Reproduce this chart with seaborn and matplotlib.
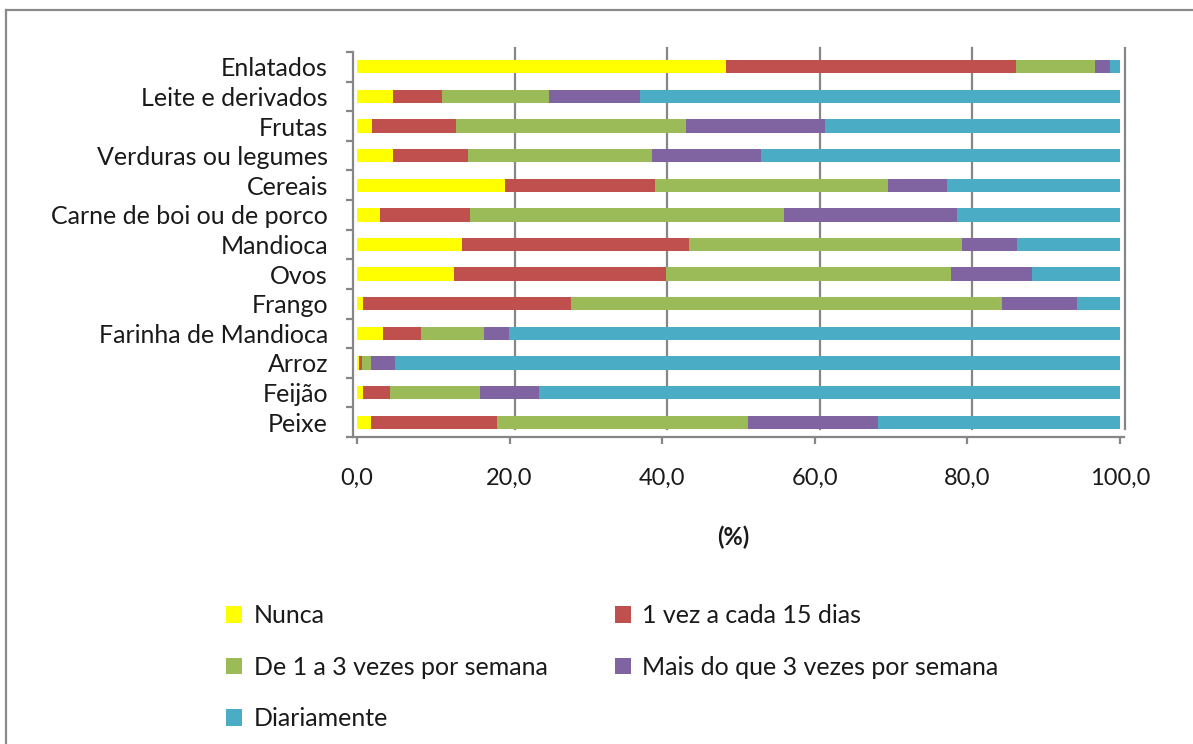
import matplotlib
matplotlib.use("Agg")
import matplotlib.pyplot as plt
import matplotlib.transforms as mtransforms
from matplotlib.lines import Line2D
from matplotlib.patches import Patch
import pandas as pd
import seaborn as sns

# DADOS

alimentos = [
    "Enlatados", "Leite e derivados", "Frutas", "Verduras ou legumes",
    "Cereais", "Carne de boi ou de porco", "Mandioca", "Ovos", "Frango",
    "Farinha de Mandioca", "Arroz", "Feijão", "Peixe",
]

nunca = [48.4, 4.7, 2.0, 4.7, 19.4, 3.0, 13.7, 12.7, 0.8, 3.4, 0.3, 0.8, 1.9]
quinzenal = [38.0, 6.5, 11.0, 9.8, 19.7, 11.8, 29.8, 27.8, 27.3, 5.0, 0.3, 3.5, 16.4]
semana_1a3 = [10.3, 14.0, 30.1, 24.2, 30.5, 41.1, 35.8, 37.4, 56.4, 8.2, 1.2, 11.8, 32.9]
semana_mais3 = [2.0, 11.9, 18.2, 14.3, 7.7, 22.8, 7.2, 10.5, 9.9, 3.3, 3.2, 7.7, 17.1]
diariamente = [1.3, 62.9, 38.7, 47.0, 22.7, 21.3, 13.5, 11.6, 5.6, 80.1, 95.0, 76.2, 31.7]

series = ["Nunca", "1 vez a cada 15 dias", "De 1 a 3 vezes por semana",
          "Mais do que 3 vezes por semana", "Diariamente"]
cores = ["#FFFF00", "#C0504D", "#9BBB59", "#8064A2", "#4BACC6"]

x_ticks = [0, 20, 40, 60, 80, 100]

df = pd.DataFrame({
    "Alimento": alimentos,
    series[0]: nunca,
    series[1]: quinzenal,
    series[2]: semana_1a3,
    series[3]: semana_mais3,
    series[4]: diariamente,
})

# acumulado para empilhar
acum = df[series].cumsum(axis=1)
acum["Alimento"] = df["Alimento"]

# FIGURA

plt.rcParams["font.family"] = ["Lato", "DejaVu Sans"]

fig = plt.figure(figsize=(11.93, 7.44), dpi=100)
ax = fig.add_axes([353 / 1193, 0.41263, 771 / 1193, 0.51747])

grid_color = "#868686"

# barras: da maior acumulada para a menor
for nome, cor in reversed(list(zip(series, cores))):
    sns.barplot(
        data=acum,
        y="Alimento",
        x=nome,
        orient="h",
        color=cor,
        saturation=1,
        width=0.45,
        edgecolor="none",
        ax=ax,
        zorder=3,
    )

ax.set_xlim(-0.52, 100.52)
ax.set_ylim(12.5, -0.5)

# linhas de grade (parede do fundo, deslocada)
offset = mtransforms.ScaledTranslation(5 / 100, 0, fig.dpi_scale_trans)
for v in x_ticks[1:]:
    ax.plot([v, v], [0.02, 1.01], color=grid_color, lw=1.6,
            transform=ax.get_xaxis_transform() + offset, zorder=1,
            clip_on=False)

# EIXOS

for s in ["top", "right"]:
    ax.spines[s].set_visible(False)
for s in ["left", "bottom"]:
    ax.spines[s].set_color(grid_color)
    ax.spines[s].set_linewidth(1.6)

ax.set_xticks(x_ticks)
ax.set_xticklabels([f"{v:.1f}".replace(".", ",") for v in x_ticks])
ax.tick_params(axis="x", length=5, width=1.6, color=grid_color,
               pad=17, labelsize=17, labelcolor="#1a1a1a")

ax.set_yticks(range(len(alimentos)))
ax.set_yticklabels(alimentos)
ax.set_yticks([i - 0.5 for i in range(len(alimentos) + 1)], minor=True)
ax.tick_params(axis="y", which="major", length=0, pad=18,
               labelsize=18, labelcolor="#1a1a1a")
ax.tick_params(axis="y", which="minor", length=5, width=1.6,
               color=grid_color)

ax.set_xlabel("")
ax.set_ylabel("")

fig.text(733 / 1193, 1 - 537 / 744, "(%)", ha="center", va="center",
         fontsize=17, fontweight="bold", color="#1a1a1a")

# LEGENDA

ordem = [0, 2, 4, 1, 3]
handles = [Patch(facecolor=cores[i], edgecolor="none") for i in ordem]
labels = [series[i] for i in ordem]
fig.legend(
    handles, labels,
    ncol=2,
    loc="upper left",
    bbox_to_anchor=(226 / 1193, 1 - 604 / 744),
    frameon=False,
    fontsize=18,
    handlelength=0.65,
    handleheight=0.65,
    handletextpad=0.45,
    labelspacing=1.15,
    columnspacing=2.7,
    borderpad=0,
    borderaxespad=0,
    labelcolor="#1a1a1a",
)

# BORDA DO GRÁFICO

fig.add_artist(Line2D([6 / 1193, 1.0], [1 - 10 / 744, 1 - 10 / 744],
                      transform=fig.transFigure, color="#8a8a8a", lw=1.6))
fig.add_artist(Line2D([6 / 1193, 6 / 1193], [0.0, 1 - 10 / 744],
                      transform=fig.transFigure, color="#8a8a8a", lw=1.6))

fig.savefig("out.png", dpi=100)
plt.close(fig)
